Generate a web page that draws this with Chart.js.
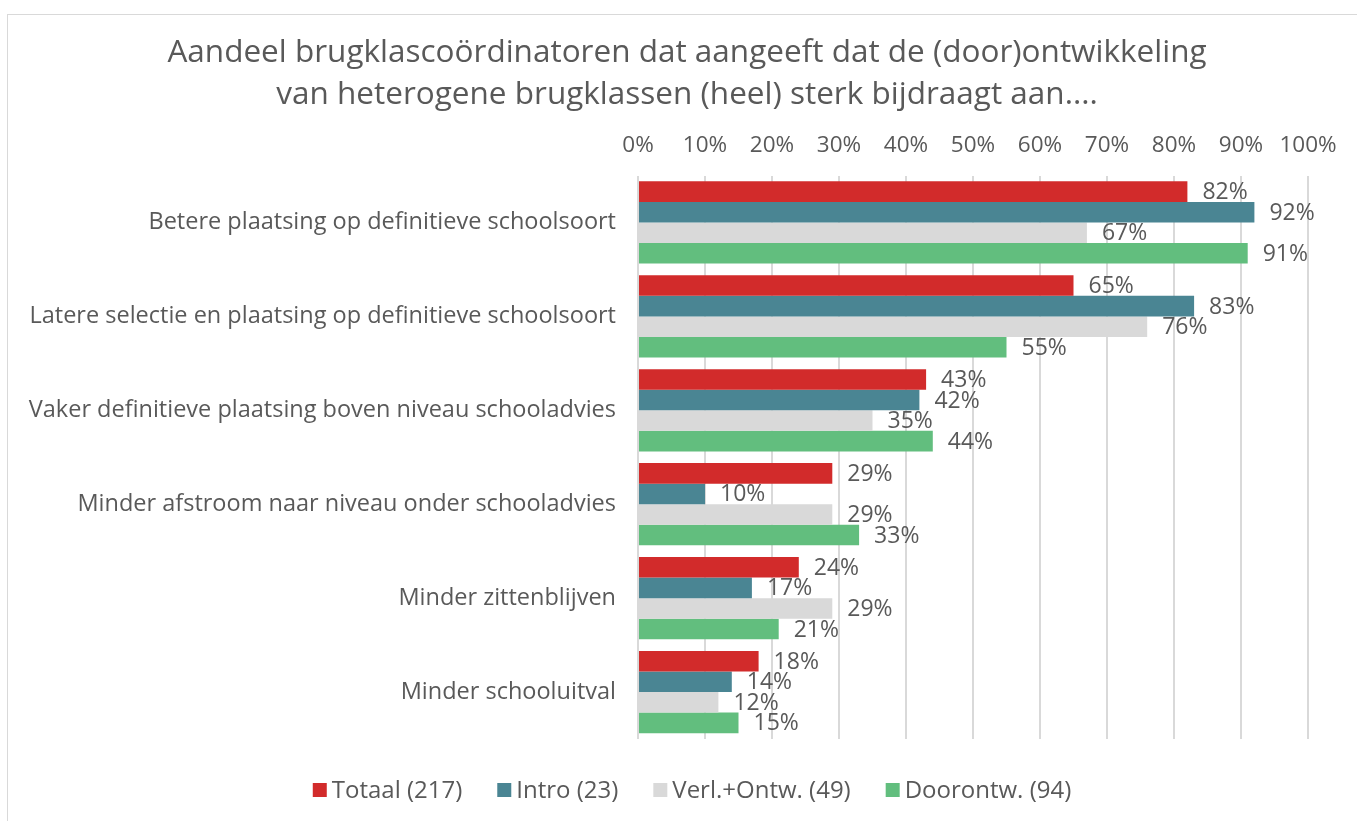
<!DOCTYPE html>
<html>
<head>
<meta charset="utf-8">
<script src="https://cdn.jsdelivr.net/npm/chart.js@4"></script>
<style>
  html, body { margin: 0; padding: 0; background: #ffffff; }
  #wrap { position: relative; width: 1357px; height: 821px; overflow: hidden; }
  #frame { position: absolute; left: 7px; top: 14px; width: 1400px; height: 900px; border: 1px solid #d9d9d9; box-sizing: border-box; }
  canvas { position: absolute; left: 0; top: 0; }
</style>
</head>
<body>
<div id="wrap">
  <div id="frame"></div>
  <canvas id="c" width="1357" height="821"></canvas>
</div>
<script>
const categories = [
  "Betere plaatsing op definitieve schoolsoort",
  "Latere selectie en plaatsing op definitieve schoolsoort",
  "Vaker definitieve plaatsing boven niveau schooladvies",
  "Minder afstroom naar niveau onder schooladvies",
  "Minder zittenblijven",
  "Minder schooluitval"
];
const seriesNames = ["Totaal (217)", "Intro (23)", "Verl.+Ontw. (49)", "Doorontw. (94)"];
const totaal  = [82, 65, 43, 29, 24, 18];
const intro   = [92, 83, 42, 10, 17, 14];
const verl    = [67, 76, 35, 29, 29, 12];
const dooront = [91, 55, 44, 33, 21, 15];
const tickValues = [0, 10, 20, 30, 40, 50, 60, 70, 80, 90, 100];
const titleLines = [
  "Aandeel brugklascoördinatoren dat aangeeft dat de (door)ontwikkeling",
  "van heterogene brugklassen (heel) sterk bijdraagt aan...."
];
const colors = ["#D22B2B", "#4A8593", "#D9D9D9", "#62BE7E"];

const FONT = "'Open Sans', Lato, sans-serif";
const TXT = "#595959";

// Chart title, centred over the whole chart frame
const topTitle = {
  id: 'topTitle',
  afterDraw(chart) {
    const ctx = chart.ctx;
    ctx.save();
    ctx.font = "31.5px " + FONT;
    ctx.fillStyle = TXT;
    ctx.textAlign = "center";
    ctx.textBaseline = "middle";
    titleLines.forEach((line, i) => ctx.fillText(line, 687, 53 + i * 42));
    ctx.restore();
  }
};

const valueLabels = {
  id: 'valueLabels',
  afterDatasetsDraw(chart) {
    const ctx = chart.ctx;
    ctx.save();
    ctx.font = "23px " + FONT;
    ctx.fillStyle = TXT;
    ctx.textAlign = "left";
    ctx.textBaseline = "middle";
    chart.data.datasets.forEach((ds, di) => {
      const meta = chart.getDatasetMeta(di);
      meta.data.forEach((bar, i) => {
        ctx.fillText(ds.data[i] + "%", bar.x + 15, bar.y + 1);
      });
    });
    ctx.restore();
  }
};

// Legend drawn from the datasets (small gap between swatch and text, as in the original)
const bottomLegend = {
  id: 'bottomLegend',
  afterDraw(chart) {
    const ctx = chart.ctx;
    const box = 14, gapText = 5, gapItem = 35, cy = 790, cx = 692;
    ctx.save();
    ctx.font = "24px " + FONT;
    ctx.textBaseline = "middle";
    ctx.textAlign = "left";
    const items = chart.data.datasets.map(ds => ({
      text: ds.label, color: ds.backgroundColor, w: ctx.measureText(ds.label).width
    }));
    let total = 0;
    items.forEach((it, i) => { total += box + gapText + it.w + (i < items.length - 1 ? gapItem : 0); });
    let x = cx - total / 2;
    items.forEach(it => {
      ctx.fillStyle = it.color;
      ctx.fillRect(x, cy - box / 2, box, box);
      x += box + gapText;
      ctx.fillStyle = TXT;
      ctx.fillText(it.text, x, cy + 1);
      x += it.w + gapItem;
    });
    ctx.restore();
  }
};

new Chart(document.getElementById('c'), {
  type: 'bar',
  data: {
    labels: categories,
    datasets: [
      { label: seriesNames[0], data: totaal,  backgroundColor: colors[0] },
      { label: seriesNames[1], data: intro,   backgroundColor: colors[1] },
      { label: seriesNames[2], data: verl,    backgroundColor: colors[2] },
      { label: seriesNames[3], data: dooront, backgroundColor: colors[3] }
    ]
  },
  options: {
    indexAxis: 'y',
    responsive: false,
    animation: false,
    layout: { padding: { left: 0, right: 49, top: 115.5, bottom: 82 } },
    datasets: { bar: { categoryPercentage: 0.876, barPercentage: 1.0 } },
    scales: {
      x: {
        position: 'top',
        min: 0, max: 100,
        afterBuildTicks(scale) { scale.ticks = tickValues.map(v => ({ value: v })); },
        ticks: {
          callback: v => v + "%",
          font: { family: FONT, size: 22.5 },
          color: TXT,
          padding: 16.5
        },
        grid: { color: "#d9d9d9", lineWidth: 2, drawTicks: false },
        border: { display: false }
      },
      y: {
        afterFit(scale) { scale.width = 638; },
        ticks: {
          font: { family: FONT, size: 23.5 },
          color: TXT,
          padding: 22
        },
        grid: { display: false, drawTicks: false },
        border: { display: false }
      }
    },
    plugins: {
      title: { display: false },
      legend: { display: false },
      tooltip: { enabled: false }
    }
  },
  plugins: [valueLabels, topTitle, bottomLegend]
});
</script>
</body>
</html>
